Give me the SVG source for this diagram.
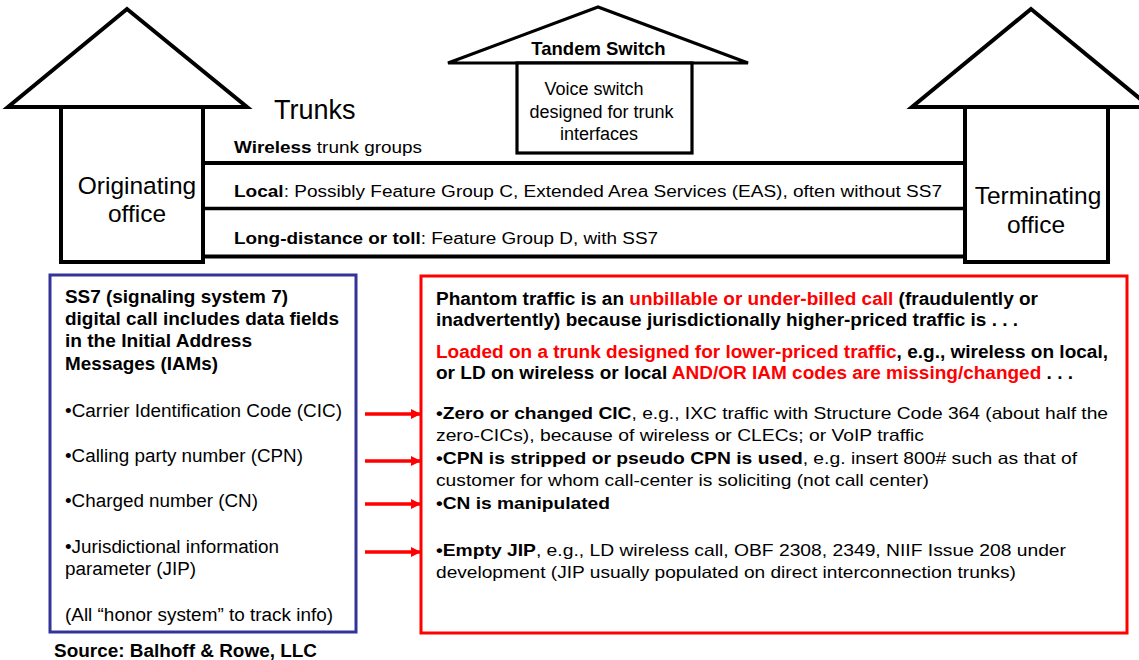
<svg xmlns="http://www.w3.org/2000/svg" width="1139" height="660" viewBox="0 0 1139 660">
<style>
  text { font-family: "Liberation Sans", Arial, sans-serif; fill: #000; }
  .house { fill: #fff; stroke: #000; stroke-width: 4; stroke-linejoin: miter; }
  .tandem { fill: #fff; stroke: #000; stroke-width: 3.2; }
  .trunk { stroke: #000; stroke-width: 4; }
  .b { font-weight: bold; }
  .red { fill: #ff0000; }
  .lbl { font-size: 16px; }
  .lt { font-size: 18.8px; }
  .rt { font-size: 17.5px; font-weight: bold; }
  .rl { font-size: 16.5px; }
  .office { font-size: 24.5px; text-anchor: middle; }
  .arrow { stroke: #ff0000; stroke-width: 3.5; marker-end: url(#ah); }
</style>
<defs>
  <marker id="ah" markerUnits="userSpaceOnUse" viewBox="0 0 10 10" refX="10" refY="5" markerWidth="11" markerHeight="10" orient="auto">
    <path d="M0,0 L10,5 L0,10 z" fill="#ff0000"/>
  </marker>
</defs>
<rect width="1139" height="660" fill="#fff"/>

<g id="connectors">
  <line class="trunk" x1="203" y1="163" x2="965" y2="163"/>
  <line class="trunk" x1="203" y1="208.5" x2="965" y2="208.5" style="stroke-width:3.5"/>
  <line class="trunk" x1="203" y1="256.5" x2="965" y2="256.5"/>
  <line class="arrow" x1="365" y1="414" x2="421" y2="414"/>
  <line class="arrow" x1="365" y1="461" x2="421" y2="461"/>
  <line class="arrow" x1="365" y1="504" x2="421" y2="504"/>
  <line class="arrow" x1="365" y1="552" x2="421" y2="552"/>
</g>

<g id="trunk-labels">
  <text x="274" y="119" style="font-size:27px">Trunks</text>
  <text class="lbl" x="234" y="153" textLength="188" lengthAdjust="spacingAndGlyphs"><tspan class="b">Wireless</tspan> trunk groups</text>
  <text class="lbl" x="234" y="197" textLength="708" lengthAdjust="spacingAndGlyphs"><tspan class="b">Local</tspan>: Possibly Feature Group C, Extended Area Services (EAS), often without SS7</text>
  <text class="lbl" x="234" y="244" textLength="424" lengthAdjust="spacingAndGlyphs"><tspan class="b">Long-distance or toll</tspan>: Feature Group D, with SS7</text>
</g>

<g id="originating-office">
  <polygon class="house" points="127,9 8,107 247,107"/>
  <rect class="house" x="61" y="107" width="142" height="155"/>
  <text class="office" x="137" y="194">Originating</text>
  <text class="office" x="137" y="222">office</text>
</g>

<g id="terminating-office">
  <polygon class="house" points="1031,9 912,107 1150,107"/>
  <rect class="house" x="965" y="107" width="143" height="155"/>
  <text class="office" x="1038" y="204">Terminating</text>
  <text class="office" x="1036" y="233">office</text>
</g>

<g id="tandem-switch">
  <polygon class="tandem" points="598,7 448,63 748,63"/>
  <rect class="tandem" x="517" y="63" width="175" height="90"/>
  <text class="b" x="598.5" y="55" text-anchor="middle" style="font-size:18.5px">Tandem Switch</text>
  <text x="594" y="95" text-anchor="middle" style="font-size:18px">Voice switch</text>
  <text x="601.5" y="118" text-anchor="middle" style="font-size:18px">designed for trunk</text>
  <text x="599" y="140" text-anchor="middle" style="font-size:18px">interfaces</text>
</g>

<g id="ss7-box">
  <rect x="50" y="275" width="306" height="357" fill="#fff" stroke="#333399" stroke-width="3"/>
  <text class="lt b" x="65" y="303" textLength="223" lengthAdjust="spacingAndGlyphs">SS7 (signaling system 7)</text>
  <text class="lt b" x="65" y="325" textLength="274" lengthAdjust="spacingAndGlyphs">digital call includes data fields</text>
  <text class="lt b" x="65" y="347" textLength="187" lengthAdjust="spacingAndGlyphs">in the Initial Address</text>
  <text class="lt b" x="65" y="370" textLength="153" lengthAdjust="spacingAndGlyphs">Messages (IAMs)</text>
  <text class="lt" x="65" y="417" textLength="277" lengthAdjust="spacingAndGlyphs">•Carrier Identification Code (CIC)</text>
  <text class="lt" x="65" y="462" textLength="238" lengthAdjust="spacingAndGlyphs">•Calling party number (CPN)</text>
  <text class="lt" x="65" y="507" textLength="193" lengthAdjust="spacingAndGlyphs">•Charged number (CN)</text>
  <text class="lt" x="65" y="553" textLength="214" lengthAdjust="spacingAndGlyphs">•Jurisdictional information</text>
  <text class="lt" x="65" y="575" textLength="131" lengthAdjust="spacingAndGlyphs">parameter (JIP)</text>
  <text class="lt" x="65" y="621" textLength="268" lengthAdjust="spacingAndGlyphs">(All “honor system” to track info)</text>
</g>

<g id="source">
  <text class="b" x="54" y="657" style="font-size:17.5px" textLength="263" lengthAdjust="spacingAndGlyphs">Source: Balhoff &amp; Rowe, LLC</text>
</g>

<g id="phantom-box">
  <rect x="421" y="276" width="706" height="357" fill="none" stroke="#ff0000" stroke-width="3"/>
  <text class="rt" x="436" y="305" textLength="602" lengthAdjust="spacingAndGlyphs">Phantom traffic is an <tspan class="red">unbillable or under-billed call</tspan> (fraudulently or</text>
  <text class="rt" x="436" y="326" textLength="582" lengthAdjust="spacingAndGlyphs">inadvertently) because jurisdictionally higher-priced traffic is . . .</text>
  <text class="rt" x="436" y="358" textLength="672" lengthAdjust="spacingAndGlyphs"><tspan class="red">Loaded on a trunk designed for lower-priced traffic</tspan>, e.g., wireless on local,</text>
  <text class="rt" x="436" y="379" textLength="637" lengthAdjust="spacingAndGlyphs">or LD on wireless or local <tspan class="red">AND/OR IAM codes are missing/changed</tspan> . . .</text>
  <text class="rl" x="436" y="419" textLength="672" lengthAdjust="spacingAndGlyphs"><tspan class="b">•Zero or changed CIC</tspan>, e.g., IXC traffic with Structure Code 364 (about half the</text>
  <text class="rl" x="436" y="441" textLength="488" lengthAdjust="spacingAndGlyphs">zero-CICs), because of wireless or CLECs; or VoIP traffic</text>
  <text class="rl" x="436" y="464" textLength="641" lengthAdjust="spacingAndGlyphs"><tspan class="b">•CPN is stripped or pseudo CPN is used</tspan>, e.g. insert 800# such as that of</text>
  <text class="rl" x="436" y="486" textLength="493" lengthAdjust="spacingAndGlyphs">customer for whom call-center is soliciting (not call center)</text>
  <text class="rl b" x="436" y="509" textLength="174" lengthAdjust="spacingAndGlyphs">•CN is manipulated</text>
  <text class="rl" x="436" y="556" textLength="630" lengthAdjust="spacingAndGlyphs"><tspan class="b">•Empty JIP</tspan>, e.g., LD wireless call, OBF 2308, 2349, NIIF Issue 208 under</text>
  <text class="rl" x="436" y="578" textLength="580" lengthAdjust="spacingAndGlyphs">development (JIP usually populated on direct interconnection trunks)</text>
</g>
</svg>
